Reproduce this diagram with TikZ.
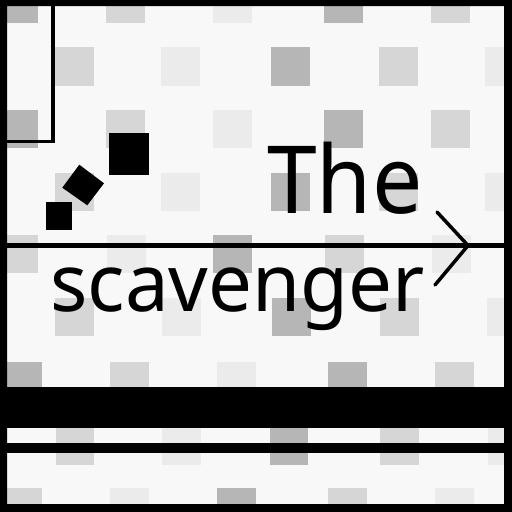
\documentclass[tikz,border=0pt]{standalone}
\usepackage{fontspec}
\setmainfont{Noto Sans}
\newfontfamily\thefont[FakeStretch=0.95]{Noto Sans}
\newfontfamily\scavfont[FakeStretch=0.975]{Noto Sans}
\definecolor{bgc}{RGB}{248,248,248}
\definecolor{medg}{RGB}{182,182,182}
\definecolor{lightg}{RGB}{214,214,214}
\definecolor{vlightg}{RGB}{235,235,235}
\tikzset{
  tile/.style={fill=#1},
  bigword/.style={inner sep=0pt, anchor=base west, text=black},
  rule/.style={line width=4.5pt},
  chevron/.style={line width=3.5pt, line cap=round},
}
\newcommand{\tilerow}[6]{% top y, then 5 entries "x/color"
  \foreach \xx/\cc in {#2,#3,#4,#5,#6}{
    \fill[tile=\cc] (\xx,#1) rectangle ++(38.5,38.5);
  }
}
\begin{document}
\begin{tikzpicture}[x=1pt,y=-1pt]
\useasboundingbox (0,0) rectangle (512,512);
\fill[bgc] (0,0) rectangle (512,512);
% checker tiles
\tilerow{-16}{-1/medg}{106/lightg}{213/vlightg}{324/medg}{431/lightg}
\tilerow{47}{55/lightg}{161/vlightg}{271/medg}{379/lightg}{485/vlightg}
\tilerow{109.5}{-1/medg}{106/lightg}{213/vlightg}{324/medg}{431/lightg}
\tilerow{172.5}{55/lightg}{161/vlightg}{271/medg}{379/lightg}{485/vlightg}
\tilerow{234.5}{-0.5/lightg}{107/vlightg}{213/medg}{325/lightg}{432/vlightg}
\tilerow{297.5}{55/lightg}{162/vlightg}{272/medg}{380/lightg}{487/vlightg}
\tilerow{362}{3.5/medg}{110/lightg}{217/vlightg}{328/medg}{435/lightg}
\tilerow{426.5}{55.5/lightg}{162/vlightg}{269.5/medg}{380/lightg}{487.5/vlightg}
\tilerow{488}{3.5/lightg}{110/vlightg}{217/medg}{328/lightg}{435/vlightg}
% top-left outlined box
\draw[line width=3.5pt] (0,0) rectangle (53,141.5);
% black squares
\fill[black] (109.3,133.3) rectangle (149.3,175.3);
\fill[black] (45.7,201.7) rectangle (72.3,229.7);
\fill[black] (79.3,164.7) -- (104,183.3) -- (87.3,205.3) -- (62.3,187.7) -- cycle;
% words
\node[bigword, font=\thefont\fontsize{94}{94}\selectfont] (the) at (267,213) {The};
\node[bigword, font=\scavfont\fontsize{80}{80}\selectfont] (scav) at (50,311) {scavenger};
% horizontal rule with chevron
\coordinate (ruleL) at (7,245.5);
\coordinate (ruleR) at (504,245.5);
\draw[rule] (ruleL) -- (ruleR);
\coordinate (chA) at (437,212);
\coordinate (chTip) at (468,245.5);
\coordinate (chB) at (435,285);
\draw[chevron] (chA) -- (chTip) -- (chB);
% bottom bars
\fill[black] (0,387) rectangle (512,427.5);
\fill[black] (0,443) rectangle (512,453);
% outer frame
\fill[black, even odd rule] (0,0) rectangle (512,512) (7,6) rectangle (504,504);
\end{tikzpicture}
\end{document}
